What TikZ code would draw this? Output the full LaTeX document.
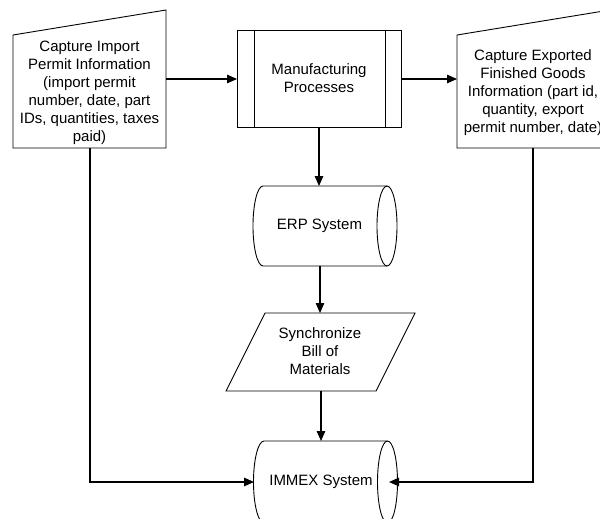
\documentclass[tikz,border=0pt]{standalone}
\usepackage{fontspec}
\setmainfont{Liberation Sans}
\usetikzlibrary{arrows.meta}
\begin{document}
\begin{tikzpicture}[x=1pt,y=-1pt,
  shapeline/.style={draw=black,line width=0.9pt},
  conn/.style={draw=black,line width=1.3pt,-{Triangle[length=10pt,width=8.5pt]}},
  label/.style={align=center,inner sep=0pt,font=\fontsize{15}{18}\selectfont}]
  \useasboundingbox (0,0) rectangle (600,519);
  \fill[white] (0,0) rectangle (600,519);
  \clip (0,0) rectangle (600,519);

  % manual input: import permit capture
  \draw[shapeline] (13,35) -- (166,10) -- (166,148) -- (13,148) -- cycle;
  \node[label] (imp) at (89.5,92.5) {Capture Import\\Permit Information\\(import permit\\number, date, part\\IDs, quantities, taxes\\paid)};

  % manufacturing predefined process
  \draw[shapeline] (237,30) rectangle (401,127);
  \draw[shapeline] (254,30) -- (254,127);
  \draw[shapeline] (385,30) -- (385,127);
  \node[label] (mfg) at (319,78.5) {Manufacturing\\Processes};

  % manual input: exported goods capture
  \draw[shapeline] (457,35) -- (610,10) -- (610,148) -- (457,148) -- cycle;
  \node[label] (exp) at (533,92.5) {Capture Exported\\Finished Goods\\Information (part id,\\quantity, export\\permit number, date)};

  % ERP storage cylinder
  \draw[shapeline] (387,186) -- (263,186)
      arc[start angle=90,end angle=270,x radius=10pt,y radius=40pt] -- (387,266);
  \draw[shapeline] (387,226) ellipse [x radius=10pt,y radius=40pt];
  \node[label] (erp) at (319.5,226) {ERP System};

  % synchronize BOM data box
  \draw[shapeline] (265,313) -- (415,313) -- (376,391) -- (226,391) -- cycle;
  \node[label] (syn) at (320,351) {Synchronize\\Bill of\\Materials};

  % IMMEX storage cylinder
  \draw[shapeline] (387.5,441) -- (264,441)
      arc[start angle=90,end angle=270,x radius=10.5pt,y radius=41pt] -- (387.5,523);
  \draw[shapeline] (387.5,482) ellipse [x radius=10pt,y radius=41pt];
  \node[label] (imx) at (321,482) {IMMEX System};

  % connection points
  \coordinate (imp-r) at (166,79);
  \coordinate (imp-b) at (90,148);
  \coordinate (mfg-l) at (237,79);
  \coordinate (mfg-r) at (401,79);
  \coordinate (mfg-b) at (319,127);
  \coordinate (exp-l) at (457,79);
  \coordinate (exp-b) at (533,148);
  \coordinate (erp-t) at (319,186);
  \coordinate (erp-b) at (320,266);
  \coordinate (syn-t) at (320,313);
  \coordinate (syn-b) at (321,391);
  \coordinate (imx-t) at (321,441);
  \coordinate (imx-l) at (254,482);
  \coordinate (imx-r) at (389,482);

  % flow
  \draw[conn] (imp-r) -- (mfg-l);
  \draw[conn] (mfg-r) -- (exp-l);
  \draw[conn] (mfg-b) -- (erp-t);
  \draw[conn] (erp-b) -- (syn-t);
  \draw[conn] (syn-b) -- (imx-t);
  \draw[conn] (imp-b) |- (imx-l);
  \draw[conn] (exp-b) |- (imx-r);
\end{tikzpicture}
\end{document}
